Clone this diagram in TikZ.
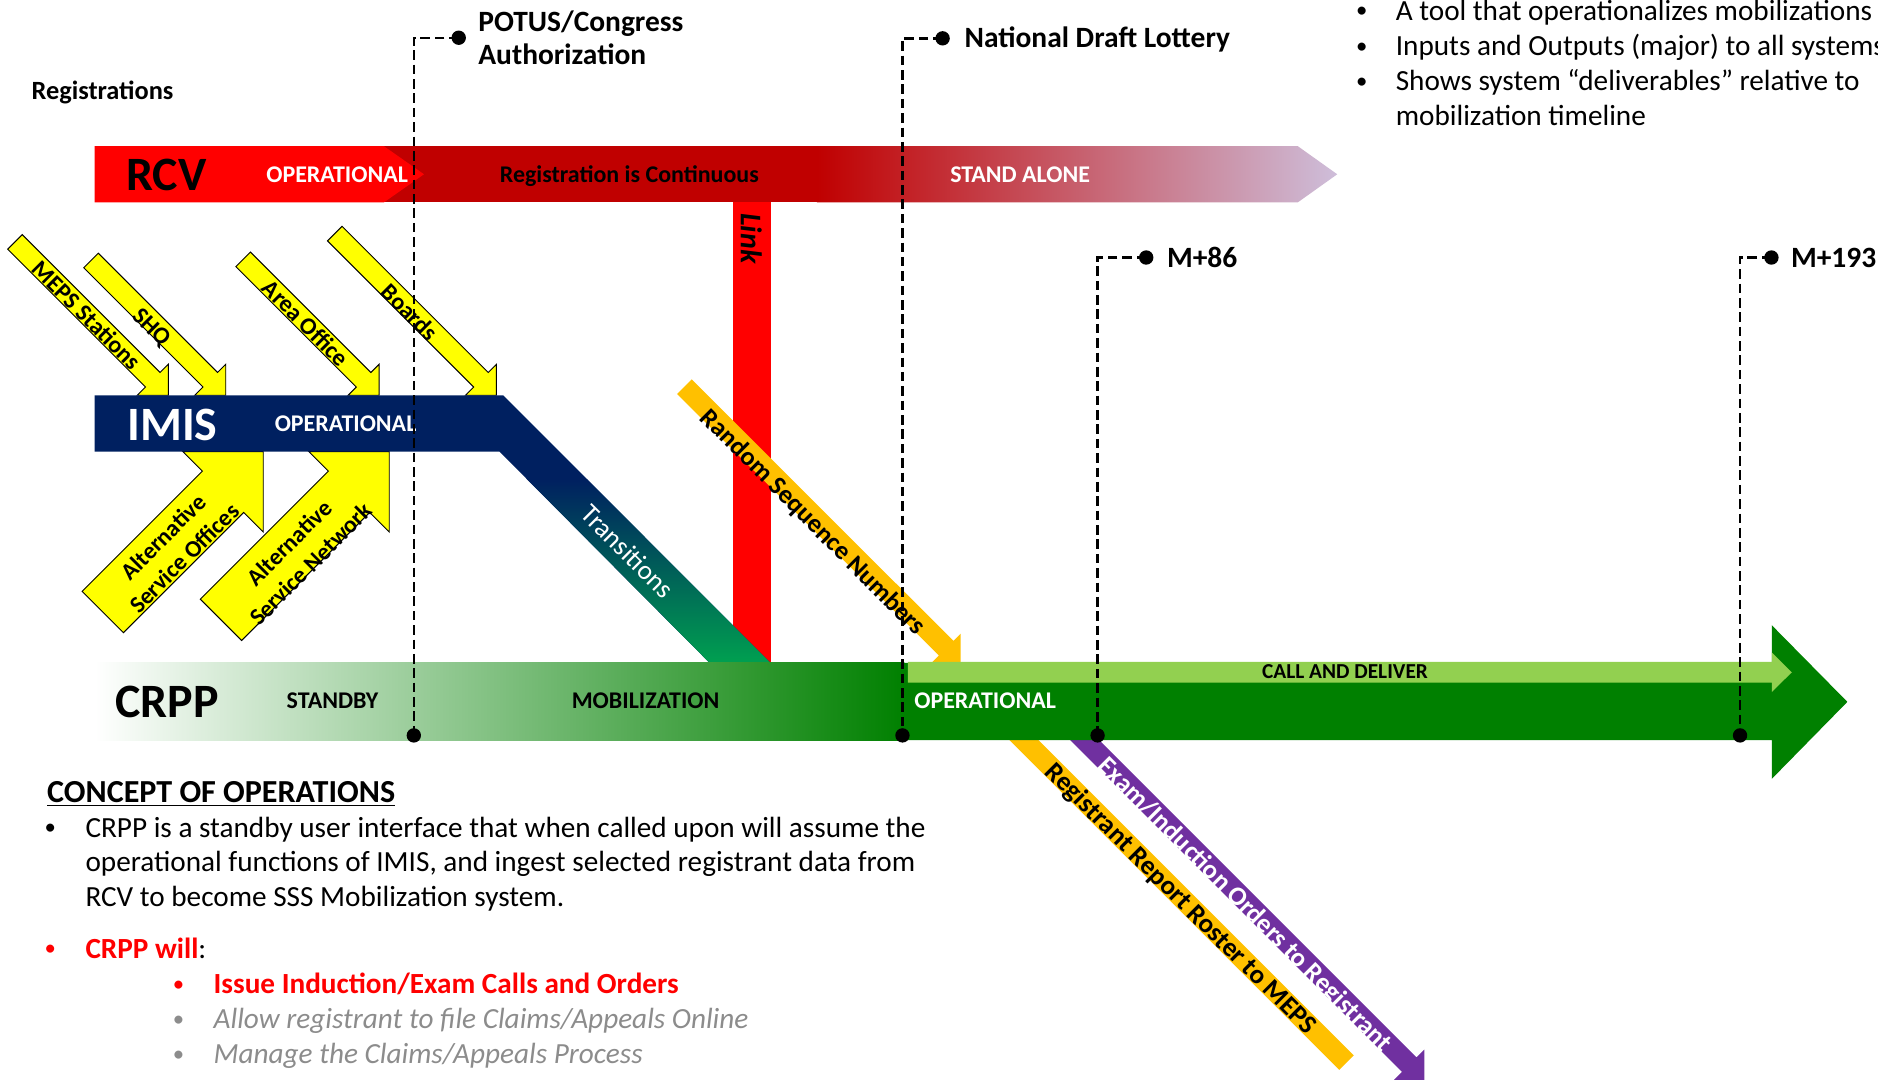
\documentclass[tikz,border=0pt]{standalone}
\usepackage{fontspec}
\setmainfont{Carlito}
\definecolor{cRed}{RGB}{255,0,0}
\definecolor{cDarkRed}{RGB}{192,0,0}
\definecolor{cLav}{RGB}{206,190,218}
\definecolor{cNavy}{RGB}{0,32,96}
\definecolor{cTrGreen}{RGB}{0,160,80}
\definecolor{cDkGreen}{RGB}{0,128,0}
\definecolor{cLtGreen}{RGB}{146,208,80}
\definecolor{cGold}{RGB}{255,192,0}
\definecolor{cPurple}{RGB}{112,48,160}
\definecolor{cYellow}{RGB}{255,255,0}
\definecolor{cGreyTxt}{RGB}{140,140,140}
\newcommand\fsz[2]{\fontsize{#1}{#2}\selectfont}
% down-right arrow: style, Sx, Sy, Tx, Ty, half shaft, half head
\newcommand\arrowDR[7]{%
  \pgfmathsetmacro\arA{#6/sqrt(2)}%
  \pgfmathsetmacro\arC{#7/sqrt(2)}%
  \pgfmathsetmacro\arE{#7*sqrt(2)}%
  \path[#1] (#2+\arA,#3-\arA) -- (#4-\arC+\arA,#5-\arC-\arA) -- (#4,#5-\arE) -- (#4,#5)
    -- (#4-\arE,#5) -- (#4-\arC-\arA,#5-\arC+\arA) -- (#2-\arA,#3+\arA) -- cycle;}
% up-right arrow
\newcommand\arrowUR[7]{%
  \pgfmathsetmacro\arA{#6/sqrt(2)}%
  \pgfmathsetmacro\arC{#7/sqrt(2)}%
  \pgfmathsetmacro\arE{#7*sqrt(2)}%
  \path[#1] (#2+\arA,#3+\arA) -- (#4-\arC+\arA,#5+\arC+\arA) -- (#4,#5+\arE) -- (#4,#5)
    -- (#4-\arE,#5) -- (#4-\arC-\arA,#5+\arC-\arA) -- (#2-\arA,#3-\arA) -- cycle;}
% down-right band without head
\newcommand\bandDR[6]{%
  \pgfmathsetmacro\arA{#6/sqrt(2)}%
  \path[#1] (#2+\arA,#3-\arA) -- (#4+\arA,#5-\arA) -- (#4-\arA,#5+\arA) -- (#2-\arA,#3+\arA) -- cycle;}
\begin{document}
\begin{tikzpicture}[x=0.5pt,y=-0.5pt,
  lbl/.style={inner sep=0pt, text height=#1, text depth=0pt},
  lbl/.default=6.44pt,
  barlbl/.style={lbl=6.44pt, anchor=west, font=\fsz{10}{12}\bfseries},
  sysname/.style={lbl=12.88pt, anchor=west, font=\fsz{20}{24}\bfseries},
  yellowarrow/.style={fill=cYellow, draw=black, line width=0.4pt},
  ytxt/.style={lbl=6.44pt, font=\fsz{10}{12}\bfseries},
  ytxt2/.style={inner sep=0pt, font=\fsz{9.9}{12.5}\bfseries, align=center},
  bandtxt/.style={lbl=7.15pt, font=\fsz{11.1}{13}\bfseries},
  milestone/.style={lbl=7.92pt, anchor=west, font=\fsz{12.3}{14}\bfseries},
  dashcon/.style={line width=1pt, dash pattern=on 4pt off 2pt},
  body/.style={lbl=7.86pt, anchor=west, font=\fsz{12.2}{14.5}},
  bul/.style={lbl=6pt, anchor=center, font=\fsz{9.5}{12}},
]
\useasboundingbox (0,0) rectangle (1568,901);
\clip (0,0) rectangle (1568,901);

% ---------- RCV band ----------
\fill[cDarkRed] (318,122) rectangle (684,169);
\shade[left color=cDarkRed, right color=cLav] (682,122) -- (1083.5,122) -- (1116.5,145.5) -- (1083.5,169) -- (682,169) -- cycle;
\fill[cRed] (79,122) -- (320.5,122) -- (354,145.5) -- (320.5,169) -- (79,169) -- cycle;

% ---------- Link bar ----------
\fill[cRed] (612.3,169) rectangle (643.7,554);

% ---------- yellow inputs ----------
\arrowDR{yellowarrow}{12.5}{202}{140.5}{330}{8.6}{18.3}
\arrowDR{yellowarrow}{76}{217.5}{188.5}{330}{8.6}{18.3}
\arrowDR{yellowarrow}{203}{216.5}{316.5}{330}{8.6}{18.3}
\arrowDR{yellowarrow}{279.5}{195}{414.5}{330}{8.6}{18.3}
\arrowUR{yellowarrow}{85.8}{511}{219.8}{377}{24.4}{47.5}
\arrowUR{yellowarrow}{184.5}{517.5}{325}{377}{24.4}{47.5}

% ---------- IMIS band ----------
\fill[cNavy] (79,330) -- (420,330) -- (643.7,553.8) -- (592.8,553.8) -- (417,377) -- (79,377) -- cycle;
\shade[top color=cNavy, bottom color=cTrGreen] (490,400) -- (643.7,553.8) -- (592.8,553.8) -- (440,400) -- cycle;

% ---------- random sequence numbers ----------
\arrowDR{fill=cGold}{571.5}{322.9}{802.1}{553.3}{8.6}{17.2}

% ---------- outputs below CRPP ----------
\bandDR{fill=cGold}{807}{570}{1124.2}{887.2}{8.6}
\arrowDR{fill=cPurple}{857.7}{570}{1189.2}{901.5}{8.6}{17.8}

% ---------- CRPP band ----------
\shade[left color=white, right color=cDkGreen] (79,553.5) rectangle (755,618);
\fill[cDkGreen] (753,553.5) -- (1479.3,553.5) -- (1479.3,522) -- (1542.4,586) -- (1479.3,650.3) -- (1479.3,618) -- (753,618) -- cycle;
\fill[cLtGreen] (758,552.7) -- (1479.3,552.7) -- (1479.3,544.8) -- (1496,561.3) -- (1479.3,577.8) -- (1479.3,569.9) -- (758,569.9) -- cycle;

% ---------- band labels ----------
\node[sysname] (rcvname) at (105,146) {RCV};
\node[barlbl, text=white] (rcvop) at (222,146) {OPERATIONAL};
\node[barlbl] (rcvcont) at (417,146) {Registration is Continuous};
\node[barlbl, text=white] (rcvstand) at (793,146) {STAND ALONE};
\node[sysname, text=white] (imisname) at (106,355) {IMIS};
\node[barlbl, text=white] (imisop) at (229,354) {OPERATIONAL};
\node[sysname] (crppname) at (96,586) {CRPP};
\node[barlbl] (crppstand) at (239,585) {STANDBY};
\node[barlbl] (crppmob) at (477,585) {MOBILIZATION};
\node[barlbl, text=white] (crppop) at (763,585) {OPERATIONAL};
\node[lbl=5.73pt, font=\fsz{8.9}{10}\bfseries] (calldel) at (1123,561) {CALL AND DELIVER};

\node[lbl=8pt, rotate=-90, font=\fsz{12.5}{14}\bfseries\itshape] (linktxt) at (626.5,199) {Link};
\node[lbl=7.28pt, rotate=-45, text=white, font=\fsz{11.3}{13}] (trans) at (523.8,460.6) {Transitions};

\node[ytxt, rotate=-45] (meps) at (72.3,263.6) {MEPS Stations};
\node[ytxt, rotate=-45] (shq) at (127.3,272.8) {SHQ};
\node[ytxt, rotate=-45] (area) at (255,270) {Area Office};
\node[ytxt, rotate=-45] (boards) at (342,260.8) {Boards};
\node[ytxt2, rotate=45] (aso) at (145,457) {Alternative\\Service Offices};
\node[ytxt2, rotate=45] (asn) at (250.5,462) {Alternative\\Service Network};

\node[bandtxt, rotate=-45, font=\fsz{10.9}{13}\bfseries] (rsn) at (679,435.6) {Random Sequence Numbers};
\node[bandtxt, rotate=-45, font=\fsz{11.2}{13}\bfseries] (rrr) at (986.2,750) {Registrant Report Roster to MEPS};
\node[bandtxt, rotate=-45, text=white] (exam) at (1039.8,755) {Exam/Induction Orders to Registrant};

% ---------- milestones ----------
\node[lbl=7.08pt, anchor=west, font=\fsz{11}{13}\bfseries] (regs) at (26,76) {Registrations};
\node[milestone] (potus1) at (399,18) {POTUS/Congress};
\node[milestone] (potus2) at (399,46) {Authorization};
\node[milestone] (ndl) at (805,32) {National Draft Lottery};
\node[milestone] (m86) at (974,215) {M+86};
\node[milestone] (m193) at (1495,215) {M+193};

\coordinate (potusdot) at (383,31.5);
\coordinate (potusbase) at (345.5,614);
\coordinate (ndldot) at (787,32);
\coordinate (ndlbase) at (753.5,614);
\coordinate (m86dot) at (957,215);
\coordinate (m86base) at (916.4,614);
\coordinate (m193dot) at (1479,215);
\coordinate (m193base) at (1452.8,614);
\foreach \a/\b in {potusdot/potusbase, ndldot/ndlbase, m86dot/m86base, m193dot/m193base}{
  \draw[dashcon] (\a) -| (\b);
  \fill (\a) circle[radius=3pt];
  \fill (\b) circle[radius=3pt];
}

% ---------- top right bullets ----------
\node[bul] (tb1) at (1137,9) {•};
\node[body] (tt1) at (1165,9) {A tool that operationalizes mobilizations};
\node[bul] (tb2) at (1137,38.5) {•};
\node[body] (tt2) at (1165,38.5) {Inputs and Outputs (major) to all systems};
\node[bul] (tb3) at (1137,67.5) {•};
\node[body] (tt3) at (1165,67.5) {Shows system “deliverables” relative to};
\node[body] (tt4) at (1165,96.5) {mobilization timeline};

% ---------- concept of operations ----------
\node[lbl=8.63pt, anchor=west, font=\fsz{13.4}{15}\bfseries] (cophead) at (39,661) {\underline{CONCEPT OF OPERATIONS}};
\node[bul] (cb1) at (42,691) {•};
\node[body] (cl1) at (71,691) {CRPP is a standby user interface that when called upon will assume the};
\node[body] (cl2) at (71,720) {operational functions of IMIS, and ingest selected registrant data from};
\node[body] (cl3) at (71,749) {RCV to become SSS Mobilization system.};
\node[bul, text=cRed] (cb2) at (42,792) {•};
\node[body] (cl4) at (71,792) {\textcolor{cRed}{\bfseries CRPP will}:};
\node[bul, text=cRed] (sb1) at (149,822) {•};
\node[body, text=cRed, font=\fsz{12.2}{14.5}\bfseries] (sl1) at (178,822) {Issue Induction/Exam Calls and Orders};
\node[bul, text=cGreyTxt] (sb2) at (149,851) {•};
\node[body, text=cGreyTxt, font=\fsz{12.2}{14.5}\itshape] (sl2) at (178,851) {Allow registrant to file Claims/Appeals Online};
\node[bul, text=cGreyTxt] (sb3) at (149,880) {•};
\node[body, text=cGreyTxt, font=\fsz{12.2}{14.5}\itshape] (sl3) at (178,880) {Manage the Claims/Appeals Process};
\end{tikzpicture}
\end{document}
